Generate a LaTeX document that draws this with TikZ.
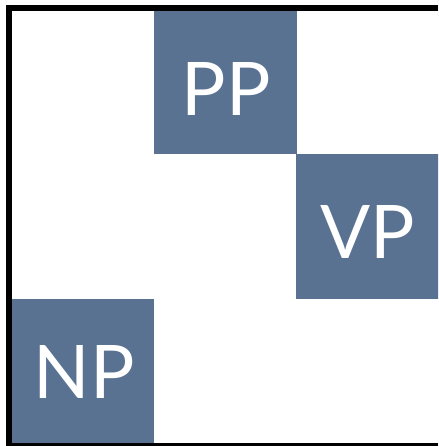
\documentclass[tikz,border=0pt]{standalone}
\usepackage{fontspec}
\setsansfont{Lato}
\usetikzlibrary{positioning}
\definecolor{myslate}{RGB}{90,114,146}
\tikzset{
  cell/.style={rectangle, fill=myslate, minimum width=143pt, minimum height=144pt,
    inner sep=0pt},
  celltext/.style={text=white, inner sep=0pt, font=\sffamily\fontsize{74}{74}\selectfont},
  frame/.style={line width=6pt, color=black}
}
\begin{document}
\begin{tikzpicture}[x=1pt, y=-1pt]
  \useasboundingbox (0,0) rectangle (438,446);
  \clip (0,0) rectangle (438,446);

  % PP
  \node[cell] (pp) at (225, 82.5) {};
  \node[celltext] (pptext) at (226, 88.5) {PP};

  % VP
  \node[cell] (vp) at (367.5, 226.5) {};
  \node[celltext] (vptext) at (368, 231.5) {VP};

  % NP
  \node[cell] (np) at (82.5, 370.5) {};
  \node[celltext] (nptext) at (84, 372) {NP};

  % Frame
  \draw[frame] (438, 446) -- (9, 446) -- (9, 8) -- (438, 8);
\end{tikzpicture}
\end{document}
